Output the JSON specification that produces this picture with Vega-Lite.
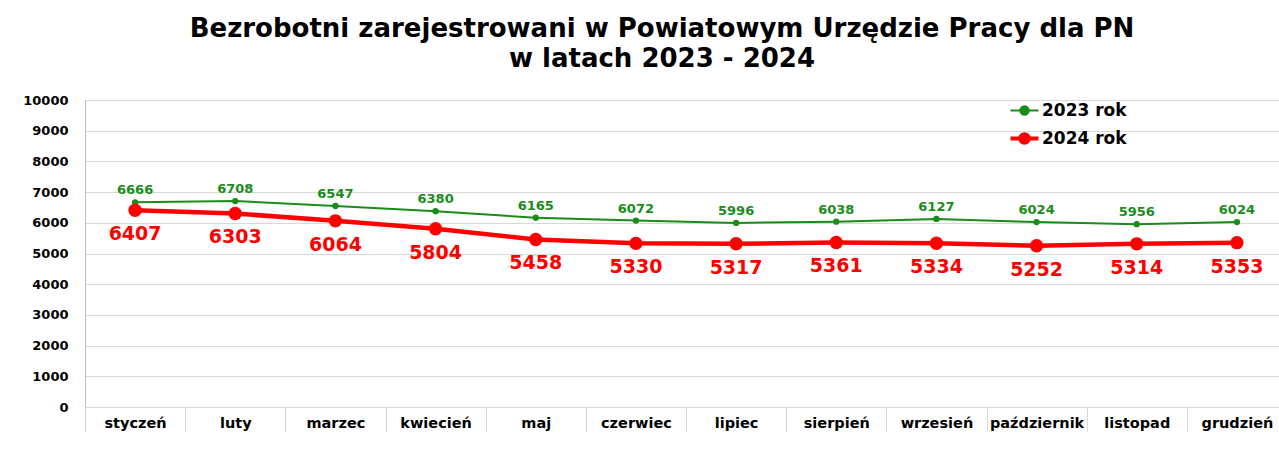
{
  "$schema": "https://vega.github.io/schema/vega-lite/v6.json",
  "autosize": "none",
  "width": 1202,
  "height": 307,
  "padding": {"left": 85, "top": 100, "right": 0, "bottom": 69},
  "background": "white",
  "config": {
    "font": "DejaVu Sans",
    "view": {"stroke": null}
  },
  "title": {
    "text": ["Bezrobotni zarejestrowani w Powiatowym Urzędzie Pracy dla PN", "w latach 2023 - 2024"],
    "fontSize": 26,
    "fontWeight": "bold",
    "color": "#000000",
    "anchor": "middle",
    "frame": "group",
    "dx": -24,
    "baseline": "bottom",
    "lineHeight": 30,
    "offset": -4
  },
  "data": {
    "values": [
      {"month": "styczeń", "series": "2023 rok", "value": 6666},
      {"month": "luty", "series": "2023 rok", "value": 6708},
      {"month": "marzec", "series": "2023 rok", "value": 6547},
      {"month": "kwiecień", "series": "2023 rok", "value": 6380},
      {"month": "maj", "series": "2023 rok", "value": 6165},
      {"month": "czerwiec", "series": "2023 rok", "value": 6072},
      {"month": "lipiec", "series": "2023 rok", "value": 5996},
      {"month": "sierpień", "series": "2023 rok", "value": 6038},
      {"month": "wrzesień", "series": "2023 rok", "value": 6127},
      {"month": "październik", "series": "2023 rok", "value": 6024},
      {"month": "listopad", "series": "2023 rok", "value": 5956},
      {"month": "grudzień", "series": "2023 rok", "value": 6024},
      {"month": "styczeń", "series": "2024 rok", "value": 6407},
      {"month": "luty", "series": "2024 rok", "value": 6303},
      {"month": "marzec", "series": "2024 rok", "value": 6064},
      {"month": "kwiecień", "series": "2024 rok", "value": 5804},
      {"month": "maj", "series": "2024 rok", "value": 5458},
      {"month": "czerwiec", "series": "2024 rok", "value": 5330},
      {"month": "lipiec", "series": "2024 rok", "value": 5317},
      {"month": "sierpień", "series": "2024 rok", "value": 5361},
      {"month": "wrzesień", "series": "2024 rok", "value": 5334},
      {"month": "październik", "series": "2024 rok", "value": 5252},
      {"month": "listopad", "series": "2024 rok", "value": 5314},
      {"month": "grudzień", "series": "2024 rok", "value": 5353}
    ]
  },
  "encoding": {
    "x": {
      "field": "month",
      "type": "nominal",
      "sort": ["styczeń", "luty", "marzec", "kwiecień", "maj", "czerwiec", "lipiec", "sierpień", "wrzesień", "październik", "listopad", "grudzień"],
      "scale": {"type": "band", "paddingInner": 0, "paddingOuter": 0},
      "axis": {
        "title": null,
        "labelAngle": 0,
        "labelFontSize": 14.5,
        "labelFontWeight": "bold",
        "labelColor": "#000000",
        "tickBand": "extent",
        "tickSize": 25,
        "tickColor": "#d9d9d9",
        "domainColor": "#d9d9d9",
        "labelPadding": -16,
        "grid": false
      }
    },
    "y": {
      "field": "value",
      "type": "quantitative",
      "scale": {"domain": [0, 10000]},
      "axis": {
        "title": null,
        "values": [0, 1000, 2000, 3000, 4000, 5000, 6000, 7000, 8000, 9000, 10000],
        "format": "d",
        "labelFontSize": 13,
        "labelFontWeight": "bold",
        "labelColor": "#000000",
        "ticks": false,
        "labelPadding": 17,
        "gridColor": "#d9d9d9",
        "domainColor": "#bfbfbf"
      }
    }
  },
  "layer": [
    {
      "transform": [{"filter": "datum.series === '2023 rok'"}],
      "mark": {"type": "line", "strokeWidth": 2},
      "encoding": {
        "color": {
          "field": "series",
          "type": "nominal",
          "scale": {"domain": ["2023 rok", "2024 rok"], "range": ["#1a8c1a", "#ff0000"]},
          "legend": {
            "title": null,
            "orient": "none",
            "legendX": 931,
            "legendY": 2,
            "labelFontSize": 17,
            "labelFontWeight": "bold",
            "labelColor": "#000000",
            "symbolType": "M-1,0H1M-0.3,0a0.3,0.3 0 1,0 0.6,0a0.3,0.3 0 1,0 -0.6,0",
            "symbolSize": 784,
            "rowPadding": 7,
            "labelOffset": 9,
            "encode": {
              "symbols": {
                "update": {
                  "fill": {"scale": "color", "field": "value"},
                  "strokeWidth": {"signal": "datum.value === '2024 rok' ? 4 : 2"}
                }
              }
            }
          }
        }
      }
    },
    {
      "transform": [{"filter": "datum.series === '2024 rok'"}],
      "mark": {"type": "line", "strokeWidth": 4.5},
      "encoding": {
        "color": {"field": "series", "type": "nominal"}
      }
    },
    {
      "transform": [{"filter": "datum.series === '2023 rok'"}],
      "mark": {"type": "point", "filled": true, "opacity": 1, "size": 40},
      "encoding": {
        "color": {"field": "series", "type": "nominal"}
      }
    },
    {
      "transform": [{"filter": "datum.series === '2024 rok'"}],
      "mark": {"type": "point", "filled": true, "opacity": 1, "size": 180},
      "encoding": {
        "color": {"field": "series", "type": "nominal"}
      }
    },
    {
      "transform": [{"filter": "datum.series === '2023 rok'"}],
      "mark": {"type": "text", "dy": -12, "fontSize": 13, "fontWeight": "bold", "color": "#1a8c1a"},
      "encoding": {
        "text": {"field": "value", "type": "quantitative", "format": "d"}
      }
    },
    {
      "transform": [{"filter": "datum.series === '2024 rok'"}],
      "mark": {"type": "text", "dy": 24, "fontSize": 19, "fontWeight": "bold", "color": "#ff0000"},
      "encoding": {
        "text": {"field": "value", "type": "quantitative", "format": "d"}
      }
    }
  ]
}
